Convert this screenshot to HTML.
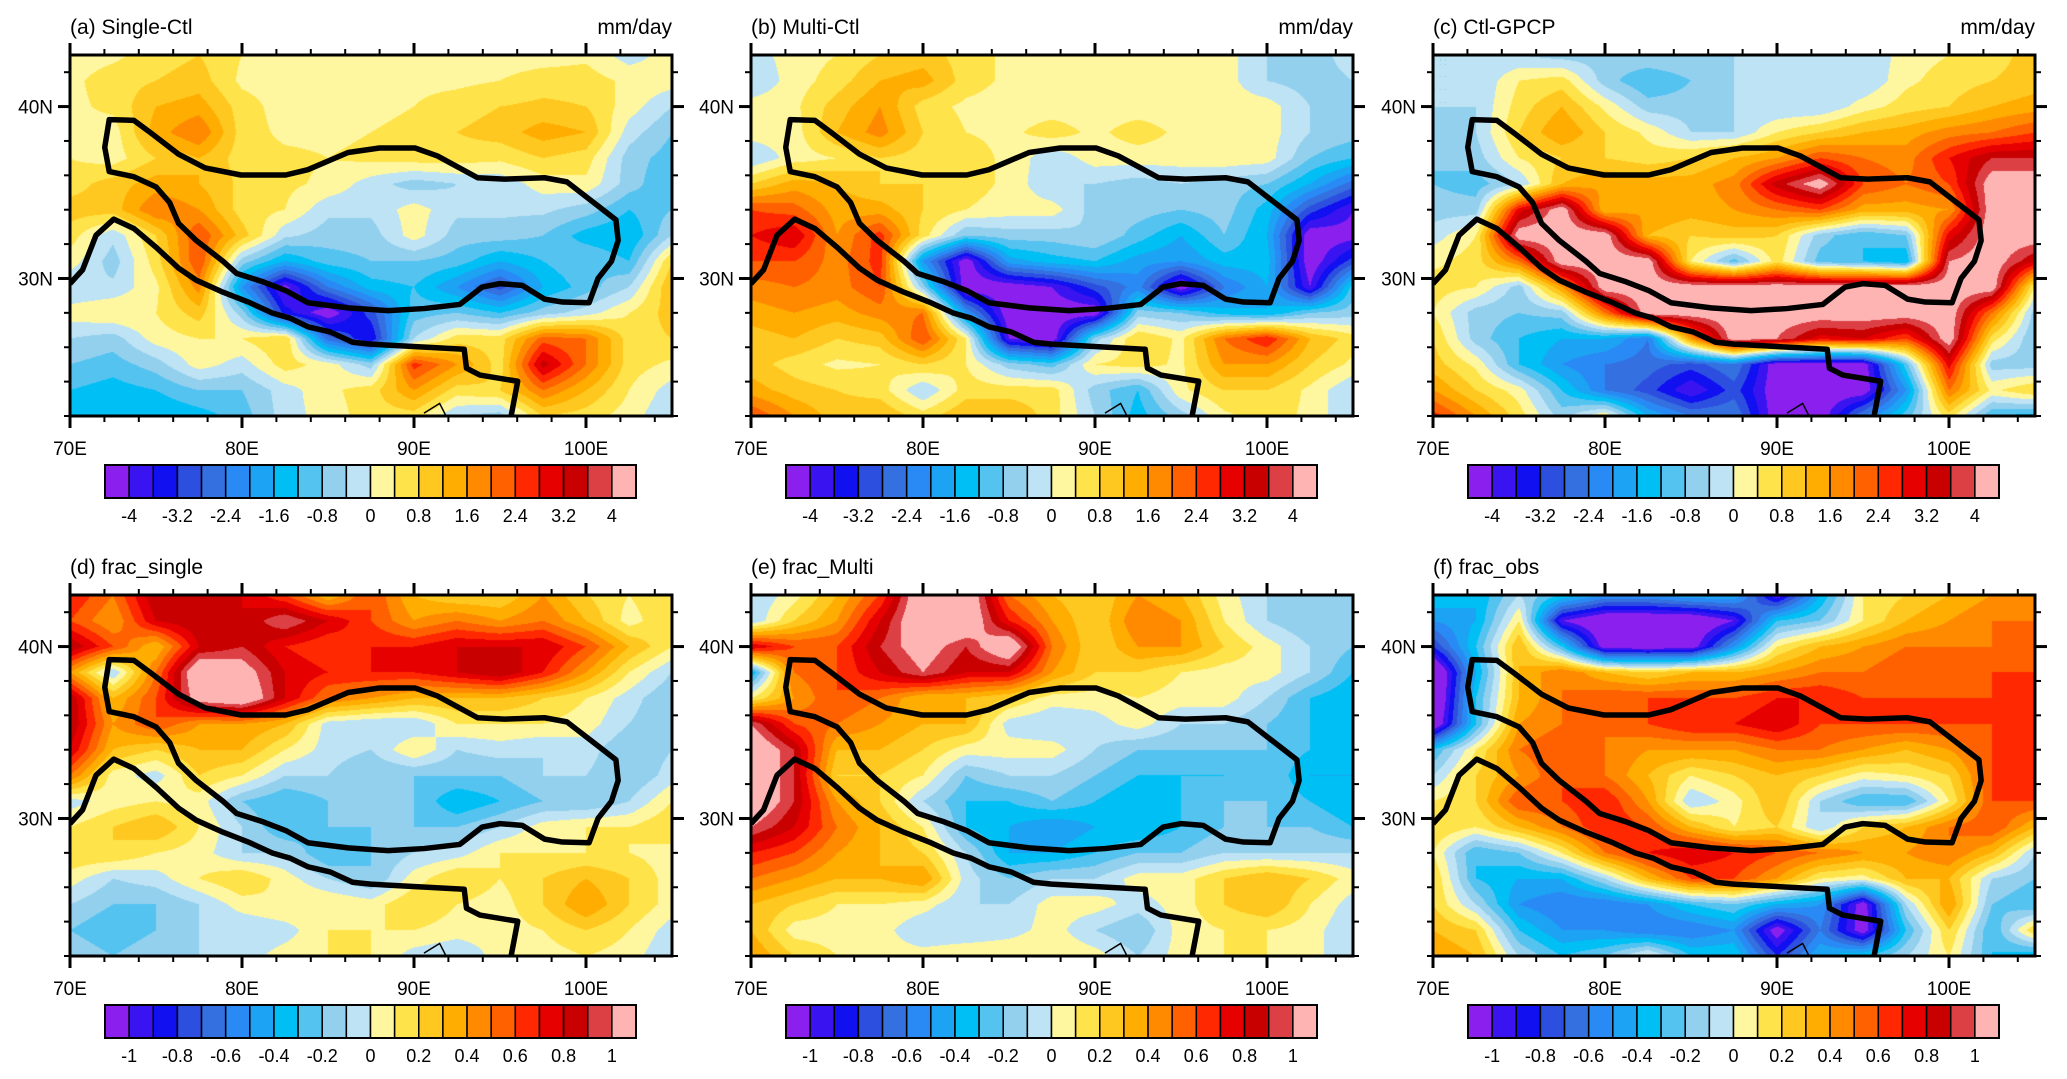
<!DOCTYPE html>
<html><head><meta charset="utf-8"><style>
html,body{margin:0;padding:0;background:#fff;}
#wrap{position:relative;width:2067px;height:1079px;overflow:hidden;background:#fff;}
canvas{position:absolute;}
svg{position:absolute;left:0;top:0;}
text{font-family:"Liberation Sans",sans-serif;fill:#000;}
</style></head><body>
<div id="wrap">
<svg id="ov" width="2067" height="1079"></svg>
</div>
<script>
// grid coordinates
const lonGrid = [70,72.5,75,77.5,80,82.5,85,87.5,90,92.5,95,97.5,100,102.5,105];
const latGrid = [43,41.5,40,38.5,37,35.5,34,32.5,31,29.5,28,26.5,25,23.5,22];
const lonTicks = [70,80,90,100];
const lonTickLabels = ["70E","80E","90E","100E"];
const latTicks = [30,40];
const latTickLabels = ["30N","40N"];
const precipLabels = ["-4","-3.2","-2.4","-1.6","-0.8","0","0.8","1.6","2.4","3.2","4"];
const fracLabels = ["-1","-0.8","-0.6","-0.4","-0.2","0","0.2","0.4","0.6","0.8","1"];
const palette = ["#8B20EE","#3A14F0","#1010F0","#2D4FE0","#3470E0","#2A8AF5","#1CA3F3","#00BFF5","#55C3F0","#93D0EE","#BDE3F4","#FFF7A0","#FFE34A","#FFC820","#FFAD00","#FF8A00","#FF6000","#FF2800","#E60000","#C80000","#DC4044","#FFB4B4"];

const singleCtl = [
[0.2,0.3,0.6,0.8,0.4,0.3,0.3,0.3,0.2,0.2,0.2,0.2,0.3,-0.2,0.2],
[0.3,0.6,0.8,1.0,0.3,0.2,0.2,0.2,0.3,0.3,0.4,0.6,0.6,0.3,0.2],
[0.3,0.5,1.2,1.4,0.6,0.2,0.2,0.2,0.4,0.6,0.8,0.9,0.8,0.2,-0.4],
[0.3,0.2,1.4,2.0,0.6,0.3,0.3,0.4,0.6,0.8,1.0,1.4,1.2,-0.2,-0.8],
[0.4,0.2,0.8,1.2,0.6,0.5,0.4,0.5,0.6,0.6,0.5,0.8,0.6,-0.6,-1.0],
[0.6,1.0,1.4,1.2,0.7,0.5,0.3,-0.2,-0.6,-0.4,-0.3,0.2,0.3,-0.6,-1.2],
[1.0,1.0,2.0,1.6,0.6,0.4,-0.3,-0.3,0.2,-0.3,-0.3,-0.3,-0.6,-1.2,-0.8],
[0.6,-0.3,0.8,2.4,1.0,-0.3,-0.6,-0.6,0.2,-0.6,-0.6,-0.8,-1.4,-1.6,-0.4],
[0.2,-0.6,0.6,2.4,-0.6,-1.6,-1.0,-0.8,-0.8,-1.0,-1.6,-1.2,-0.8,-1.2,0.8],
[-0.4,-0.3,0.3,1.8,-2.0,-4.2,-2.4,-1.4,-1.2,-2.0,-3.0,-1.6,-1.0,-0.4,1.2],
[0.2,0.4,0.4,1.0,-0.6,-3.4,-4.4,-3.0,-1.0,-0.8,-1.2,-0.6,-0.2,0.4,1.0],
[-0.4,-0.6,0.2,0.4,0.4,0.8,-2.6,-3.6,-0.4,0.6,0.6,2.2,2.0,0.6,0.8],
[-0.8,-1.0,-0.6,0.2,-0.2,0.6,0.2,-0.6,2.6,1.6,0.6,3.4,2.0,0.6,0.3],
[-1.2,-1.4,-1.2,-0.8,-0.8,-0.2,0.3,0.6,1.6,0.6,0.8,2.0,1.2,0.4,-0.2],
[-1.4,-1.2,-1.6,-1.4,-1.0,-0.2,0.2,0.6,0.6,-0.4,-0.6,0.8,0.6,0.2,-0.4]];
const multiCtl = [
[-0.2,0.2,0.4,0.8,1.0,0.6,0.3,0.2,0.2,0.2,0.2,0.2,-0.4,-0.6,-0.2],
[-0.4,0.2,0.6,1.2,1.4,0.6,0.3,0.2,0.2,0.2,0.2,0.2,-0.4,-0.6,-0.4],
[0.2,0.3,1.0,1.6,0.6,0.3,0.2,0.2,0.2,0.2,0.2,0.2,0.2,-0.4,-0.4],
[0.2,0.2,1.2,1.8,0.8,0.4,0.3,0.6,0.3,0.6,0.3,0.2,0.2,-0.4,-0.6],
[-0.4,0.2,0.4,0.8,0.6,0.6,0.3,-0.3,0.2,0.2,0.2,0.3,0.2,-0.8,-1.2],
[0.8,1.4,1.2,0.8,0.8,0.6,0.3,-0.4,-0.4,-0.6,-0.4,-0.6,-0.8,-1.6,-2.6],
[2.4,2.2,1.4,1.4,0.8,0.4,0.2,0.2,-0.6,-0.6,-0.8,-0.6,-1.4,-3.0,-4.0],
[2.8,3.2,1.6,2.6,0.6,-0.8,-0.6,-0.6,-0.4,-1.0,-1.6,-0.8,-1.6,-4.4,-4.2],
[2.4,2.4,1.8,2.6,-2.0,-4.4,-1.8,-1.4,-1.2,-1.8,-2.0,-1.4,-1.4,-4.4,-3.0],
[1.8,2.0,1.8,2.4,-0.6,-4.4,-4.4,-4.0,-3.0,-2.2,-4.4,-2.4,-1.6,-4.0,-1.0],
[1.4,1.6,1.4,1.8,2.0,-2.0,-4.4,-4.4,-4.4,-0.6,-0.8,-1.4,-1.6,-0.8,-0.6],
[1.0,1.2,0.8,1.0,2.4,0.4,-4.0,-4.4,-0.6,0.8,0.3,2.0,2.8,1.2,0.6],
[1.0,0.6,0.3,0.4,0.8,0.4,-0.6,-1.0,0.4,0.6,0.3,1.6,1.6,0.8,0.3],
[1.4,1.0,0.8,0.6,-0.4,0.6,0.6,0.6,-0.6,-1.2,0.3,0.8,0.8,0.3,-0.4],
[2.4,1.6,1.0,1.2,0.6,1.2,1.2,0.6,-0.4,-1.4,-0.6,0.3,0.6,0.3,-0.4]];
const ctlGpcp = [
[-0.4,-0.4,-0.4,-0.6,-0.6,-0.4,-0.4,-0.4,-0.4,-0.4,-0.4,0.2,0.4,0.6,1.0],
[-0.4,-0.4,0.4,0.6,-0.6,-1.2,-0.8,-0.4,-0.4,-0.4,-0.4,0.3,0.6,0.8,1.0],
[-0.4,-0.4,0.6,1.2,0.3,-0.6,-0.6,-0.4,-0.4,-0.4,0.2,0.6,0.8,1.2,1.4],
[-0.8,-0.4,0.8,1.6,0.8,0.3,-0.4,-0.4,0.4,0.8,1.2,1.4,1.8,2.0,2.4],
[-0.8,-0.6,0.4,0.8,0.8,0.6,0.8,1.2,1.6,2.4,2.0,1.8,2.8,3.6,3.6],
[-0.8,-1.0,-0.4,1.2,1.6,1.4,1.4,1.8,3.4,4.4,2.4,2.0,2.4,4.4,4.4],
[-0.6,-0.6,3.0,4.4,1.2,1.6,1.4,1.6,2.0,2.4,1.4,1.4,1.6,4.4,4.4],
[-0.2,0.4,4.4,4.4,4.4,1.2,0.8,1.0,0.8,-0.6,-1.2,-0.8,3.0,4.4,4.4],
[0.3,0.6,2.0,4.4,4.4,4.4,0.4,-1.0,0.6,-1.0,-1.2,-1.6,4.0,4.4,3.2],
[0.6,0.4,-0.6,1.6,4.4,4.4,4.4,4.4,4.4,4.4,4.4,4.4,4.4,4.4,0.3],
[0.4,-0.6,-0.8,-0.6,2.0,4.4,4.4,4.4,4.4,4.4,4.4,4.4,4.4,2.0,-0.6],
[0.8,-0.6,-1.2,-1.6,-1.6,-2.4,1.6,4.4,4.0,3.0,3.2,2.4,4.4,0.6,-0.8],
[1.0,0.3,-1.2,-2.0,-2.4,-2.6,-3.0,-2.4,-4.4,-4.4,-4.4,-1.0,3.0,-0.6,-0.6],
[1.6,0.8,0.2,-1.2,-2.4,-3.0,-4.0,-3.0,-4.4,-4.4,-4.4,-2.0,2.0,0.3,0.8],
[2.6,1.6,0.6,-0.6,0.4,-1.6,-2.4,-2.4,-4.4,-4.4,-2.4,-1.0,0.6,-1.2,-1.4]];
const fracSingle = [
[0.7,0.5,0.9,0.8,0.8,0.6,0.3,0.6,0.3,0.2,0.2,0.4,0.2,0.1,0.2],
[0.6,0.4,0.8,0.9,0.8,1.0,0.8,0.6,0.4,0.5,0.4,0.5,0.3,0.05,0.2],
[0.9,0.6,0.3,0.8,0.9,0.7,0.6,0.7,0.7,0.8,0.8,0.8,0.6,0.3,0.1],
[0.4,-0.1,0.5,1.2,1.1,0.8,0.7,0.7,0.7,0.8,0.9,0.7,0.4,0.1,-0.1],
[0.9,0.3,0.6,1.1,1.2,0.8,0.5,0.4,0.3,0.3,0.3,0.2,0.1,-0.05,-0.2],
[0.9,0.4,0.6,0.4,0.4,0.3,-0.05,-0.1,-0.1,0.1,0.1,0.1,0.05,-0.1,-0.2],
[0.8,0.3,0.2,0.3,0.3,0.1,-0.05,-0.1,0.1,-0.1,-0.05,-0.1,-0.05,-0.2,-0.1],
[0.5,0.05,-0.05,0.2,0.1,-0.1,-0.1,-0.2,-0.2,-0.2,-0.2,-0.1,-0.1,-0.2,-0.05],
[-0.05,0.05,0.1,0.05,-0.2,-0.3,-0.2,-0.2,-0.2,-0.4,-0.3,-0.2,-0.2,-0.1,0.1],
[0.1,0.2,0.3,0.1,-0.1,-0.3,-0.2,-0.2,-0.2,-0.2,-0.1,0.05,0.1,0.1,0.2],
[0.2,0.2,0.1,0.05,-0.1,-0.1,-0.3,-0.2,-0.1,-0.05,0.1,0.1,0.1,0.1,0.05],
[0.05,-0.1,-0.05,0.1,0.2,0.05,-0.1,-0.2,0.05,0.2,0.1,0.2,0.3,0.2,0.05],
[-0.1,-0.2,-0.2,-0.1,0.05,0.1,0.1,0.05,0.2,0.1,0.05,0.2,0.4,0.2,0.05],
[-0.2,-0.3,-0.2,-0.1,-0.1,-0.05,0.1,0.1,0.1,0.05,0.05,0.1,0.2,0.1,-0.05],
[-0.1,-0.2,-0.1,-0.1,-0.05,0.05,0.1,0.1,-0.05,-0.1,0.05,0.05,0.1,0.05,-0.1]];
const fracMulti = [
[-0.1,0.05,0.3,0.6,1.2,1.2,0.5,0.3,0.2,0.4,0.3,0.05,-0.1,-0.2,-0.1],
[-0.1,0.2,0.4,0.8,1.2,1.2,0.7,0.4,0.2,0.5,0.4,0.1,-0.1,-0.2,-0.1],
[0.8,0.6,0.6,0.9,1.1,0.9,1.2,0.5,0.2,0.4,0.4,0.2,0.05,-0.1,-0.2],
[-0.4,0.5,0.6,0.8,1.0,0.8,0.8,0.4,0.2,0.2,0.1,0.05,0.05,-0.1,-0.3],
[0.1,0.4,0.6,0.5,0.3,0.3,0.2,0.05,0.05,0.1,0.05,0.05,-0.1,-0.3,-0.4],
[1.0,0.6,0.5,0.4,0.3,0.3,-0.05,-0.1,-0.05,0.05,-0.1,-0.1,-0.2,-0.3,-0.4],
[1.2,0.9,0.3,0.3,0.2,0.05,0.05,0.05,-0.1,-0.2,-0.2,-0.2,-0.2,-0.3,-0.4],
[1.2,0.9,0.2,0.2,0.1,-0.2,-0.1,-0.1,-0.2,-0.3,-0.3,-0.3,-0.2,-0.4,-0.4],
[1.2,0.9,0.4,0.2,-0.1,-0.3,-0.3,-0.2,-0.3,-0.4,-0.3,-0.2,-0.2,-0.3,-0.4],
[1.0,0.8,0.5,0.3,0.1,-0.3,-0.4,-0.5,-0.4,-0.4,-0.3,-0.2,-0.2,-0.2,-0.3],
[0.7,0.6,0.4,0.3,0.2,-0.1,-0.4,-0.4,-0.3,-0.2,-0.2,-0.1,-0.1,-0.1,-0.1],
[0.5,0.4,0.3,0.3,0.4,-0.05,-0.2,-0.1,-0.1,0.05,0.05,0.2,0.3,0.2,0.05],
[0.3,0.2,0.1,0.1,0.05,-0.1,-0.1,0.05,0.05,-0.05,0.05,0.2,0.3,0.1,-0.05],
[0.3,0.05,0.05,0.05,-0.1,-0.1,-0.05,0.05,-0.1,-0.2,0.05,0.1,0.1,0.05,-0.1],
[0.4,0.2,0.1,0.05,0.05,0.1,0.1,0.1,0.05,-0.1,0.05,0.1,0.1,0.05,-0.1]];
const fracObs = [
[-0.3,-0.4,-0.1,-0.3,-0.5,-0.5,-0.4,-0.4,-1.0,-0.4,0.1,0.2,0.3,0.4,0.5],
[-0.5,-0.4,0.1,-1.0,-1.2,-1.2,-1.2,-1.0,-0.3,-0.2,0.1,0.3,0.4,0.5,0.5],
[-0.8,-0.3,0.3,-0.3,-1.1,-1.1,-1.1,-0.5,0.1,0.3,0.4,0.5,0.5,0.5,0.5],
[-1.3,-0.4,0.3,0.5,0.3,0.2,0.3,0.3,0.4,0.5,0.5,0.6,0.5,0.6,0.6],
[-1.3,-0.3,0.3,0.5,0.6,0.6,0.6,0.6,0.7,0.7,0.6,0.6,0.6,0.6,0.6],
[-1.2,-0.3,0.4,0.5,0.5,0.6,0.7,0.7,0.8,0.6,0.6,0.6,0.6,0.6,0.6],
[-0.3,0.1,0.5,0.6,0.5,0.4,0.4,0.4,0.5,0.5,0.4,0.3,0.4,0.6,0.6],
[-0.1,0.2,0.4,0.6,0.5,0.3,0.1,0.2,0.3,0.2,0.05,0.1,0.2,0.6,0.6],
[0.1,0.2,0.6,0.6,0.7,0.4,-0.1,0.05,0.3,-0.1,-0.3,-0.3,0.1,0.6,0.6],
[0.2,0.1,0.3,0.5,0.7,0.6,0.3,0.1,0.2,-0.1,0.2,0.3,0.5,0.6,0.3],
[0.1,-0.3,-0.2,0.1,0.5,0.7,0.8,0.7,0.6,0.5,0.4,0.4,0.5,0.3,-0.1],
[0.2,-0.3,-0.4,-0.4,-0.1,0.3,0.6,0.6,0.4,0.1,0.05,0.3,0.3,-0.1,-0.2],
[0.2,-0.1,-0.5,-0.6,-0.6,-0.5,-0.3,-0.2,-0.4,-0.5,-1.1,-0.1,0.4,-0.2,-0.3],
[0.3,0.2,-0.3,-0.5,-0.5,-0.6,-0.6,-0.5,-1.1,-0.6,-1.1,-0.3,0.2,-0.3,0.2],
[0.4,0.3,-0.1,-0.3,-0.2,0.05,-0.3,-0.3,-0.8,-0.4,-0.3,-0.1,0.1,-0.3,-0.4]];

// plateau outline (lon, lat)
const plateauLon = [72.28,73.71,74.75,76.31,77.86,79.94,82.54,83.83,86.17,87.99,90.06,91.36,93.70,95.25,97.59,98.89,100.70,101.74,101.87,101.48,100.70,100.18,98.63,97.59,96.29,94.99,93.96,92.66,90.58,88.50,86.17,83.83,82.54,81.24,79.68,78.90,77.34,76.31,75.79,75.01,73.71,72.28,72.02,72.28];
const plateauLat = [39.24,39.20,38.43,37.23,36.43,36.02,36.02,36.33,37.33,37.59,37.59,37.13,35.86,35.78,35.86,35.62,34.22,33.41,32.21,31.00,30.00,28.59,28.63,28.80,29.60,29.70,29.50,28.49,28.25,28.13,28.29,28.59,29.30,29.80,30.30,31.00,32.21,33.21,34.42,35.32,35.92,36.22,37.63,39.24];
const southLon = [70,70.73,71.51,72.54,73.71,75.01,76.31,77.34,78.90,80.46,81.76,82.80,83.83,85.13,86.43,87.47,92.92,93.05,93.83,96.03,95.64];
const southLat = [29.70,30.50,32.51,33.45,32.91,31.81,30.60,29.90,29.20,28.59,27.99,27.69,27.19,26.89,26.29,26.18,25.88,24.78,24.38,24.02,21.97];
const thinLon = [90.58,91.49,91.88];
const thinLat = [22.17,22.73,21.97];

const panels = [
 {id:"a",title:"(a) Single-Ctl",unit:"mm/day",data:singleCtl,lo:-4,hi:4,labels:precipLabels,left:70,top:55},
 {id:"b",title:"(b) Multi-Ctl",unit:"mm/day",data:multiCtl,lo:-4,hi:4,labels:precipLabels,left:751,top:55},
 {id:"c",title:"(c) Ctl-GPCP",unit:"mm/day",data:ctlGpcp,lo:-4,hi:4,labels:precipLabels,left:1433,top:55},
 {id:"d",title:"(d) frac_single",unit:"",data:fracSingle,lo:-1,hi:1,labels:fracLabels,left:70,top:595},
 {id:"e",title:"(e) frac_Multi",unit:"",data:fracMulti,lo:-1,hi:1,labels:fracLabels,left:751,top:595},
 {id:"f",title:"(f) frac_obs",unit:"",data:fracObs,lo:-1,hi:1,labels:fracLabels,left:1433,top:595}
];
const W=602,H=361,LON0=70,LON1=105,LAT0=22,LAT1=43;
const NS="http://www.w3.org/2000/svg";
const wrap=document.getElementById('wrap');
const ov=document.getElementById('ov');
function hex(c){return [parseInt(c.slice(1,3),16),parseInt(c.slice(3,5),16),parseInt(c.slice(5,7),16)];}
const rgb=palette.map(hex);
function mk(tag,attrs,parent){const e=document.createElementNS(NS,tag);for(const k in attrs)e.setAttribute(k,attrs[k]);(parent||ov).appendChild(e);return e;}

panels.forEach(p=>{
  const xs=lon=>p.left+(lon-LON0)/(LON1-LON0)*W;
  const ys=lat=>p.top+(LAT1-lat)/(LAT1-LAT0)*H;
  const cv=document.createElement('canvas');cv.width=W;cv.height=H;
  cv.style.left=p.left+'px';cv.style.top=p.top+'px';
  
  
  wrap.insertBefore(cv,ov);
  const ctx=cv.getContext('2d');const img=ctx.createImageData(W,H);
  const nx=lonGrid.length,ny=latGrid.length,step=(p.hi-p.lo)/20;
  for(let py=0;py<H;py++){
    const lat=LAT1-(py+0.5)/H*(LAT1-LAT0);
    let gy=(latGrid[0]-lat)/(latGrid[0]-latGrid[1]);gy=Math.max(0,Math.min(ny-1.0001,gy));
    const j=Math.floor(gy),fy=gy-j;
    for(let px=0;px<W;px++){
      const lon=LON0+(px+0.5)/W*(LON1-LON0);
      let gx=(lon-lonGrid[0])/(lonGrid[1]-lonGrid[0]);gx=Math.max(0,Math.min(nx-1.0001,gx));
      const i=Math.floor(gx),fx=gx-i;
      const d=p.data;
      const v=(d[j][i]*(1-fx)+d[j][i+1]*fx)*(1-fy)+(d[j+1][i]*(1-fx)+d[j+1][i+1]*fx)*fy;
      let k=Math.floor((v-p.lo)/step)+1;k=Math.max(0,Math.min(21,k));
      const c=rgb[k],o=(py*W+px)*4;
      img.data[o]=c[0];img.data[o+1]=c[1];img.data[o+2]=c[2];img.data[o+3]=255;
    }
  }
  ctx.putImageData(img,0,0);
  const g=mk('g',{});
  
  
  const cp=mk('clipPath',{id:'clip'+p.id},g);
  mk('rect',{x:p.left,y:p.top,width:W,height:H},cp);
  const lines=mk('g',{'clip-path':'url(#clip'+p.id+')'},g);
  const pl=mk('polygon',{points:plateauLon.map((l,i)=>xs(l)+','+ys(plateauLat[i])).join(' '),fill:'none',stroke:'#000','stroke-width':5.5,'stroke-linejoin':'round'},lines);
  
  
  const sl=mk('polyline',{points:southLon.map((l,i)=>xs(l)+','+ys(southLat[i])).join(' '),fill:'none',stroke:'#000','stroke-width':5.5,'stroke-linejoin':'round'},lines);
  
  
  mk('polyline',{points:thinLon.map((l,i)=>xs(l)+','+ys(thinLat[i])).join(' '),fill:'none',stroke:'#000','stroke-width':1.5},lines);
  const fr=mk('rect',{x:p.left,y:p.top,width:W,height:H,fill:'none',stroke:'#000','stroke-width':3},g);
  
  
  for(let lon=70;lon<=104;lon+=2){
    const major=lonTicks.includes(lon);const L=major?12:6;const x=xs(lon);
    mk('line',{x1:x,x2:x,y1:p.top,y2:p.top-L,stroke:'#000','stroke-width':major?3:2},g);
    mk('line',{x1:x,x2:x,y1:p.top+H,y2:p.top+H+L,stroke:'#000','stroke-width':major?3:2},g);
  }
  for(let lat=22;lat<=42;lat+=2){
    const major=latTicks.includes(lat);const L=major?12:6;const y=ys(lat);
    mk('line',{x1:p.left,x2:p.left-L,y1:y,y2:y,stroke:'#000','stroke-width':major?3:2},g);
    mk('line',{x1:p.left+W,x2:p.left+W+L,y1:y,y2:y,stroke:'#000','stroke-width':major?3:2},g);
  }
  lonTicks.forEach((lon,i)=>{
    const t=mk('text',{x:xs(lon),y:p.top+H+39,'text-anchor':'middle','font-size':19},g);t.textContent=lonTickLabels[i];
    
    
  });
  latTicks.forEach((lat,i)=>{
    const t=mk('text',{x:p.left-17,y:ys(lat)+7,'text-anchor':'end','font-size':19},g);t.textContent=latTickLabels[i];
    
    
  });
  const tt=mk('text',{x:p.left,y:p.top-21,'font-size':21},g);tt.textContent=p.title;
  
  
  if(p.unit){const u=mk('text',{x:p.left+W,y:p.top-21,'text-anchor':'end','font-size':21},g);u.textContent=p.unit;
    
    }
  const cb=mk('g',{},g);
  
  
  const cx0=p.left+35,cw=531/22,cy=p.top+410,ch=33;
  palette.forEach((c,k)=>{
    const r=mk('rect',{x:cx0+k*cw,y:cy,width:cw,height:ch,fill:c,stroke:'#000','stroke-width':1.5},cb);
    
    
  });
  mk('rect',{x:cx0,y:cy,width:531,height:ch,fill:'none',stroke:'#000','stroke-width':2},cb);
  p.labels.forEach((s,i)=>{
    const t=mk('text',{x:cx0+(1+2*i)*cw,y:cy+ch+24,'text-anchor':'middle','font-size':18},cb);t.textContent=s;
    
    
  });
});
</script>
</body></html>
